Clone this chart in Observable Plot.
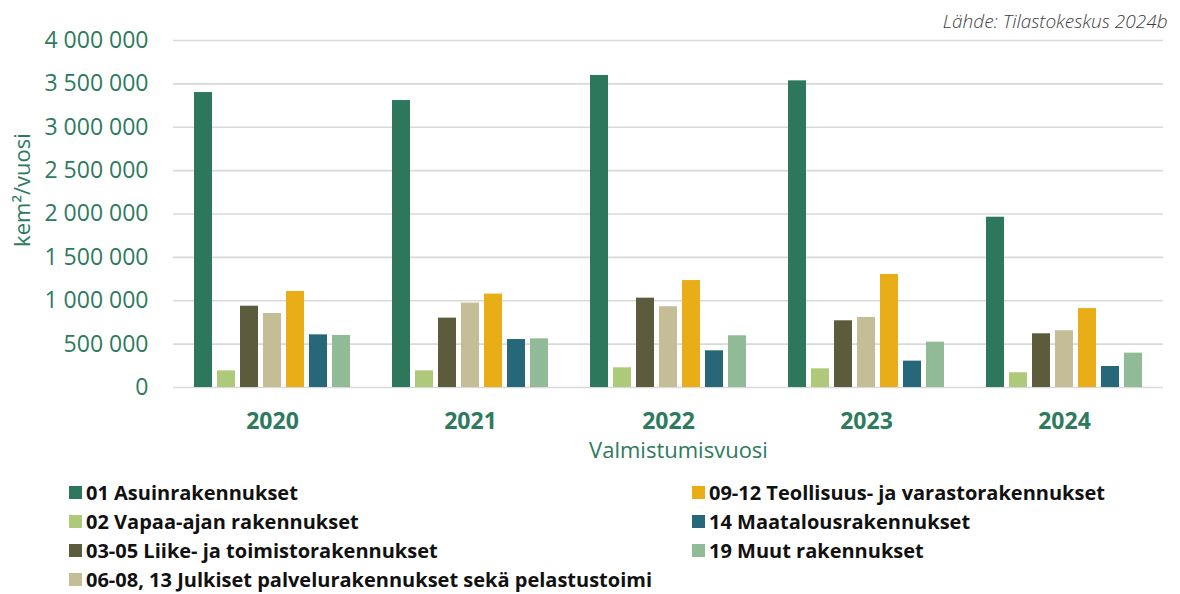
<!DOCTYPE html>
<html>
<head>
<meta charset="utf-8">
<script src="https://cdn.jsdelivr.net/npm/d3@7"></script>
<script src="https://cdn.jsdelivr.net/npm/@observablehq/plot@0.6"></script>
<style>
  html, body { margin: 0; padding: 0; background: #fff; overflow: hidden; }
  #chart { width: 1180px; height: 470px; }
  #legend {
    display: grid;
    grid-template-rows: repeat(4, 29px);
    grid-auto-flow: column;
    grid-template-columns: 623px 480px;
    margin: 8px 0 0 69px;
    font-family: "Open Sans", sans-serif;
    font-weight: bold;
    font-size: 20px;
    line-height: 20px;
    color: #111;
  }
  .item { display: flex; align-items: center; white-space: nowrap; }
  .sw { width: 13px; height: 13px; margin-right: 4px; flex: none; }
</style>
</head>
<body>
<div id="chart"></div>
<div id="legend"></div>
<script>
const years = ["2020", "2021", "2022", "2023", "2024"];
const categories = [
  "01 Asuinrakennukset",
  "02 Vapaa-ajan rakennukset",
  "03-05 Liike- ja toimistorakennukset",
  "06-08, 13 Julkiset palvelurakennukset sekä pelastustoimi",
  "09-12 Teollisuus- ja varastorakennukset",
  "14 Maatalousrakennukset",
  "19 Muut rakennukset"
];
const colors = ["#2d785c", "#afc97b", "#5c5c3c", "#c5bd96", "#e9ae17", "#26687a", "#90bb96"];

const asuin      = [3400000, 3308000, 3597000, 3535000, 1963000];
const vapaa      = [ 192000,  192000,  227000,  215000,  170000];
const liike      = [ 937000,  800000, 1030000,  769000,  619000];
const julkiset   = [ 853000,  973000,  931000,  808000,  654000];
const teollisuus = [1107000, 1077000, 1233000, 1303000,  910000];
const maatalous  = [ 607000,  553000,  423000,  304000,  242000];
const muut       = [ 600000,  561000,  596000,  523000,  396000];
const series = [asuin, vapaa, liike, julkiset, teollisuus, maatalous, muut];

const yTicks = [0, 500000, 1000000, 1500000, 2000000, 2500000, 3000000, 3500000, 4000000];
const yLabel = "kem²/vuosi";
const xLabel = "Valmistumisvuosi";
const sourceText = "Lähde: Tilastokeskus 2024b";

const teal = "#2e7a5e";
const fmt = d3.formatLocale({decimal: ",", thousands: " ", grouping: [3], currency: ["", ""]}).format(",");

const data = years.flatMap((yr, i) => categories.map((c, j) => ({year: yr, category: c, value: series[j][i]})));

const chart = Plot.plot({
  width: 1180,
  height: 470,
  marginTop: 40,
  marginLeft: 171,
  marginRight: 16,
  marginBottom: 83,
  style: {fontFamily: "'Open Sans', sans-serif", fontSize: "22px", color: teal, background: "white"},
  fx: {domain: years, paddingInner: 0, paddingOuter: 0},
  x: {domain: categories, paddingInner: 0.2, paddingOuter: 0.85, axis: null},
  y: {domain: [0, 4000000]},
  color: {domain: categories, range: colors},
  marks: [
    Plot.ruleY(yTicks, {stroke: "#d9d9d9", strokeWidth: 1.6}),
    Plot.barY(data, {fx: "year", x: "category", y: "value", fill: "category"}),
    Plot.axisY({ticks: yTicks, tickFormat: fmt, tickSize: 0, tickPadding: 25, fontSize: 23, fill: teal, label: null}),
    Plot.axisFx({anchor: "bottom", tickSize: 0, tickPadding: 25, fontSize: 23, fontWeight: "bold", fill: teal, label: null}),
    Plot.text([xLabel], {facet: "super", frameAnchor: "bottom", dx: 10, dy: 63, fontSize: 22, fill: teal, lineAnchor: "middle"}),
    Plot.text([yLabel], {facet: "super", frameAnchor: "left", rotate: -90, textAnchor: "middle", dx: -151, dy: -24, fontSize: 22, fill: teal, lineAnchor: "middle"}),
    Plot.text([sourceText], {facet: "super", frameAnchor: "top-right", textAnchor: "end", dx: 4, dy: -19, fontSize: 19, fontStyle: "italic", fontWeight: 300, fill: "#404040", lineAnchor: "middle"})
  ]
});
document.getElementById("chart").appendChild(chart);

const legend = document.getElementById("legend");
categories.forEach((c, i) => {
  const it = document.createElement("div");
  it.className = "item";
  const sw = document.createElement("span");
  sw.className = "sw";
  sw.style.background = colors[i];
  const tx = document.createElement("span");
  tx.textContent = c;
  it.appendChild(sw);
  it.appendChild(tx);
  legend.appendChild(it);
});
</script>
</body>
</html>
